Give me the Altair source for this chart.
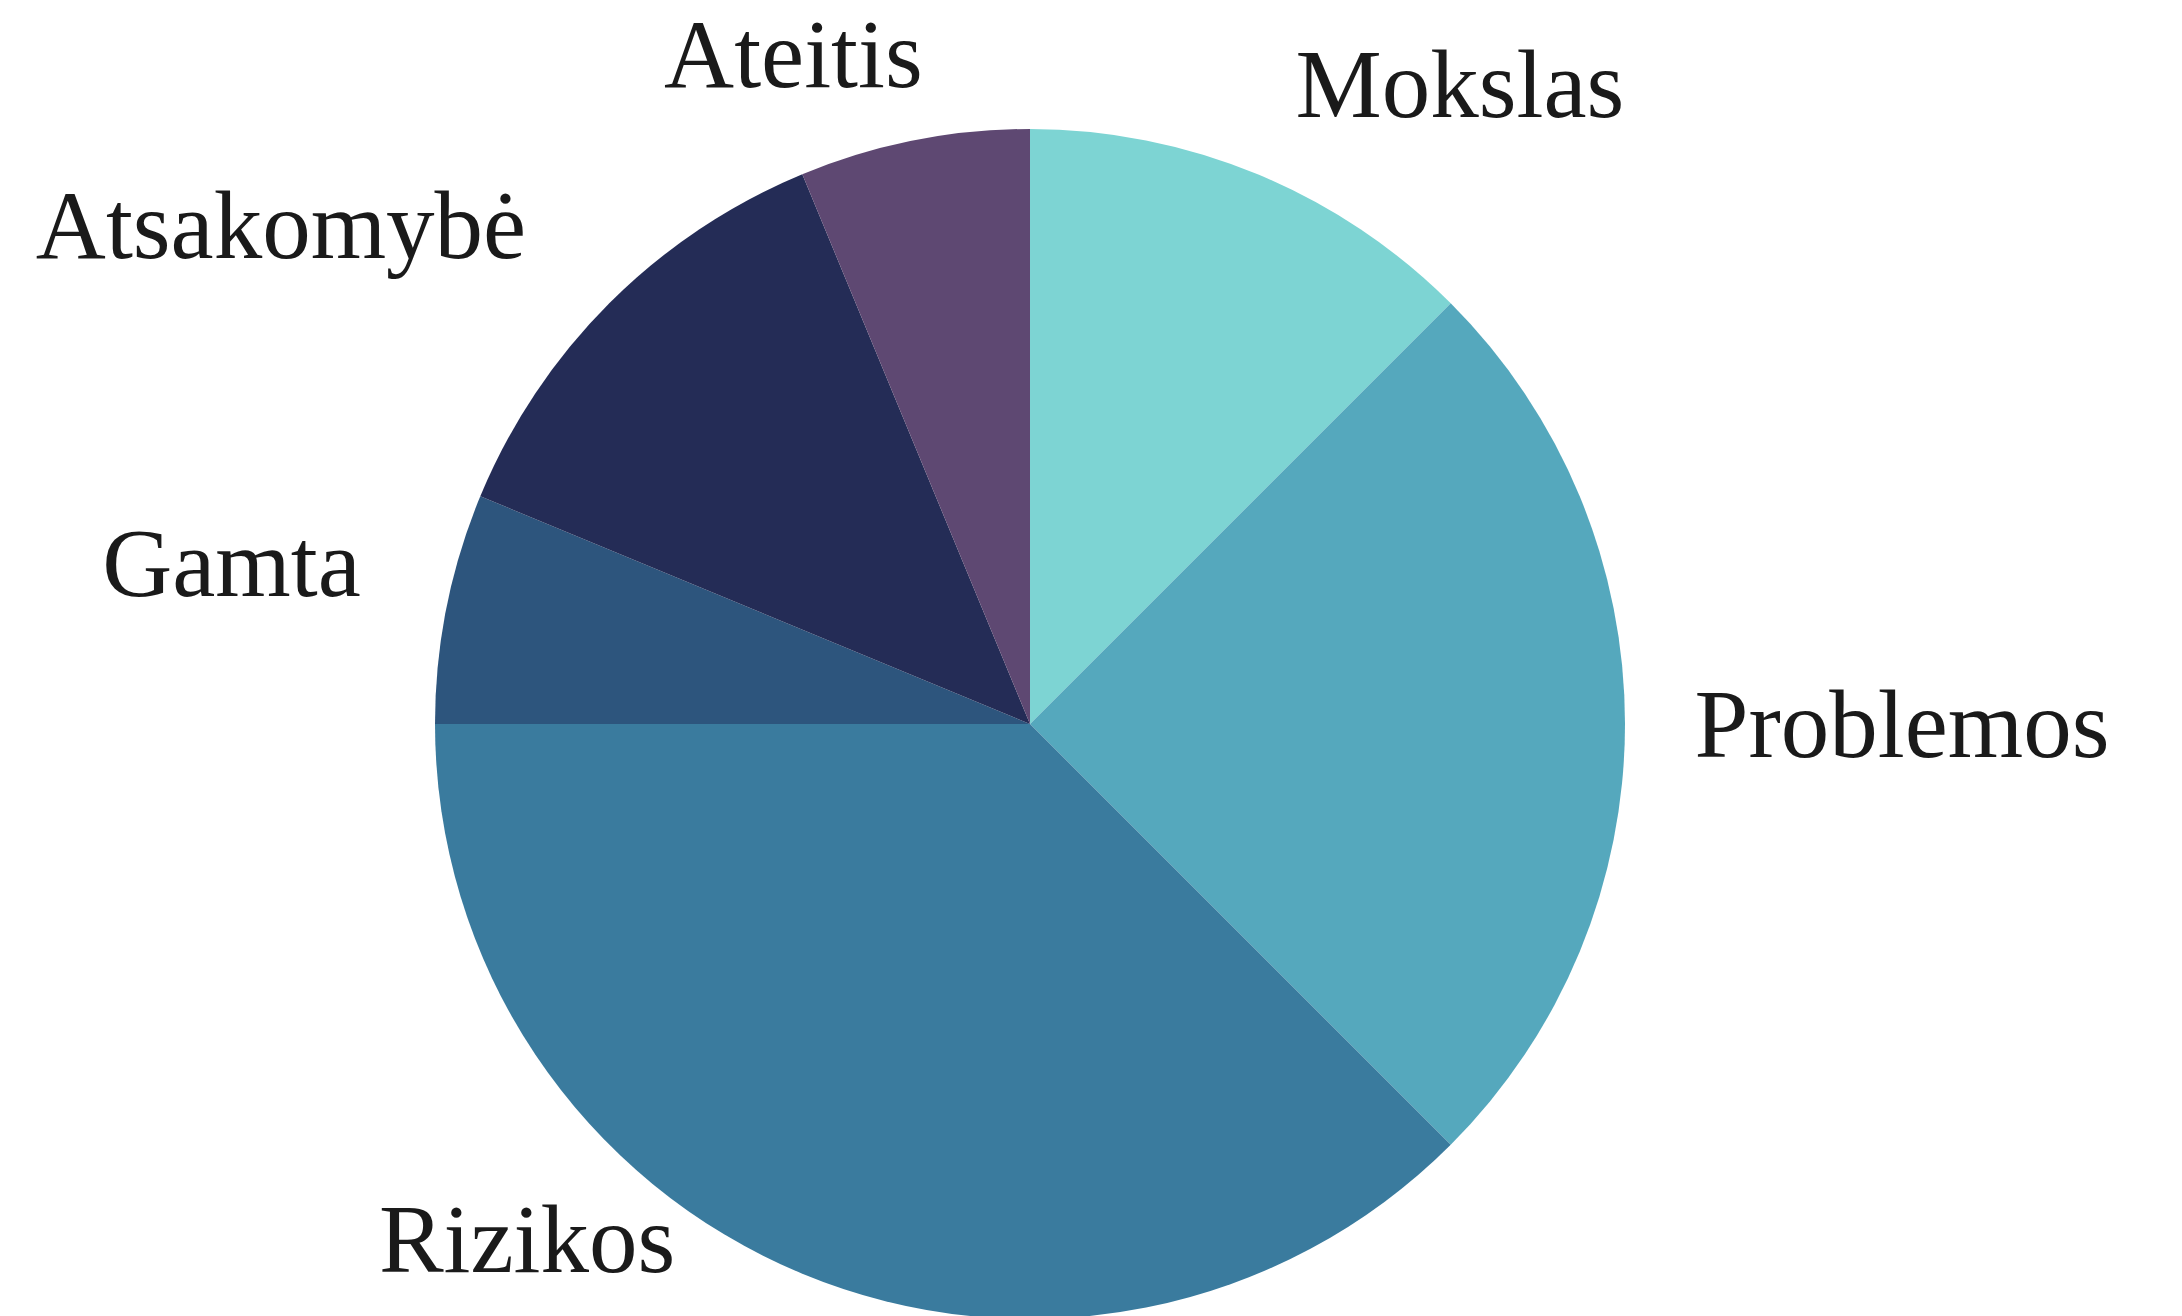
import altair as alt
import pandas as pd

categories = ["Mokslas", "Problemos", "Rizikos", "Gamta", "Atsakomybė", "Ateitis"]
values = [2, 4, 6, 1, 2, 1]
colors = ["#7dd4d3", "#55a8bd", "#3a7b9e", "#2d557d", "#242c56", "#5e4872"]

# label nudges (style only)
label_offsets = {
    "Mokslas": (162, 11),
    "Problemos": (172, 4),
    "Rizikos": (-235, -128),
    "Gamta": (-112, -20),
    "Atsakomybė": (-254, 0),
    "Ateitis": (-100, 21),
}

df = pd.DataFrame({"cat": categories, "val": values, "ord": list(range(len(categories)))})

color = alt.Color("cat:N", scale=alt.Scale(domain=categories, range=colors), legend=None)

base = alt.Chart(df).encode(
    theta=alt.Theta("val:Q", stack=True),
    order=alt.Order("ord:Q"),
)

pie = base.mark_arc(outerRadius=595, stroke=None).encode(color=color)

layers = [pie]
for c in categories:
    dx, dy = label_offsets[c]
    t = base.mark_text(
        radius=700,
        font="Liberation Serif",
        fontSize=97,
        color="#1a1a1a",
        align="center",
        baseline="middle",
        dx=dx,
        dy=dy,
    ).encode(
        text="cat:N",
        opacity=alt.condition(alt.datum.cat == c, alt.value(1), alt.value(0)),
    )
    layers.append(t)

chart = alt.layer(*layers).properties(
    width=2044,
    height=1168,
    padding={"left": 0, "top": 132, "right": 122, "bottom": 8},
    autosize=alt.AutoSizeParams(type="none"),
    background="white",
).configure_view(stroke=None)

chart.save("out.html", embed_options={"renderer": "svg", "actions": False})
